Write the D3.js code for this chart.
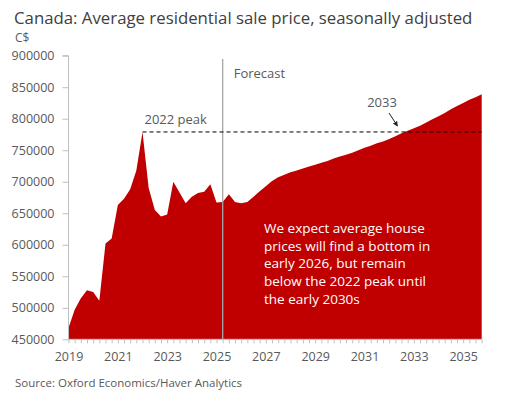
<!DOCTYPE html>
<html>
<head>
<meta charset="utf-8">
<script src="https://cdn.jsdelivr.net/npm/d3@7"></script>
<style>
  body { margin: 0; background: #fff; }
  svg { font-family: "Open Sans", "Noto Sans", sans-serif; }
</style>
</head>
<body>
<svg id="chart" width="510" height="399"></svg>
<script>
// quarterly average residential sale price, C$ (2019Q1 .. 2035Q4)
var years = d3.range(2019, 2036);
var quarters = [];
years.forEach(function(y) { for (var q = 0; q < 4; q++) quarters.push(y + q / 4); });

var prices = [
  468000, 497000, 515000, 528000,   // 2019
  525000, 511000, 602000, 610000,   // 2020
  663000, 673000, 688000, 718000,   // 2021
  779000, 690000, 655000, 645000,   // 2022
  648000, 700000, 683000, 666000,   // 2023
  676000, 682000, 684000, 696000,   // 2024
  667000, 668000, 680000, 668000,   // 2025
  666000, 668000, 676000, 685000,   // 2026
  693000, 701000, 707000, 711000,   // 2027
  715000, 718000, 721000, 724000,   // 2028
  727000, 730000, 733000, 737000,   // 2029
  740000, 743000, 746000, 750000,   // 2030
  754000, 757000, 761000, 764000,   // 2031
  768000, 772000, 777000, 781000,   // 2032
  785000, 789000, 794000, 799000,   // 2033
  804000, 809000, 815000, 820000,   // 2034
  825000, 830000, 834000, 839000    // 2035
];

var forecastStart = 2025.25;
var yTicks = d3.range(450000, 900001, 50000);
var xLabels = [2019, 2021, 2023, 2025, 2027, 2029, 2031, 2033, 2035];
var noteLines = [
  "We expect average house",
  "prices will find a bottom in",
  "early 2026, but remain",
  "below the 2022 peak until",
  "the early 2030s"
];

var svg = d3.select('#chart');
var grey = '#595959';

var x = d3.scaleLinear()
  .domain([2019, 2035.75])
  .range([68.5, 481.7]);

var y = d3.scaleLinear()
  .domain([450000, 900000])
  .range([339.3, 55.7]);

// title
svg.append('text')
  .attr('x', 14).attr('y', 24)
  .attr('font-size', 16.8)
  .attr('fill', '#404040')
  .text('Canada: Average residential sale price, seasonally adjusted');

svg.append('text')
  .attr('x', 15).attr('y', 42)
  .attr('font-size', 12)
  .attr('fill', grey)
  .text('C$');

// area
var area = d3.area()
  .x(function(d, i) { return x(quarters[i]); })
  .y0(y(450000))
  .y1(function(d) { return y(d); });

svg.append('path')
  .attr('d', area(prices))
  .attr('fill', '#c00000');

// y axis
var yAxis = d3.axisLeft(y)
  .tickValues(yTicks)
  .tickSize(6)
  .tickFormat(d3.format('d'));

var gy = svg.append('g')
  .attr('transform', 'translate(' + x.range()[0] + ',0)')
  .call(yAxis);
gy.select('.domain').attr('stroke', '#bfbfbf').attr('d', 'M-6,' + y(900000) + 'H0V' + y(450000));
gy.selectAll('.tick line').attr('stroke', '#bfbfbf');
gy.selectAll('.tick text')
  .attr('font-size', 12.5)
  .attr('font-family', '"Open Sans", sans-serif')
  .attr('fill', grey)
  .attr('x', -14);

// x axis, quarterly ticks
var xAxis = d3.axisBottom(x)
  .tickValues(quarters)
  .tickSize(4)
  .tickFormat(function(d) { return xLabels.indexOf(d) >= 0 ? d : ''; });

var gx = svg.append('g')
  .attr('transform', 'translate(0,' + y(450000) + ')')
  .call(xAxis);
gx.select('.domain').attr('stroke', '#bfbfbf').attr('d', 'M' + x.range()[0] + ',0H' + x.range()[1]);
gx.selectAll('.tick line').attr('stroke', '#bfbfbf');
gx.selectAll('.tick text')
  .attr('font-size', 12.5)
  .attr('font-family', '"Open Sans", sans-serif')
  .attr('fill', grey)
  .attr('y', 13);

// forecast divider
svg.append('line')
  .attr('x1', x(forecastStart)).attr('x2', x(forecastStart))
  .attr('y1', 59).attr('y2', y(450000))
  .attr('stroke', '#a6a6a6')
  .attr('stroke-width', 1.3);

svg.append('text')
  .attr('x', x(forecastStart) + 11).attr('y', 78)
  .attr('font-size', 13)
  .attr('fill', grey)
  .text('Forecast');

// 2022 peak line (max of the historical part)
var pastPrices = prices.filter(function(d, i) { return quarters[i] < forecastStart; });
var peak = d3.max(pastPrices);
var peakX = quarters[prices.indexOf(peak)];

svg.append('line')
  .attr('x1', x(peakX)).attr('x2', x(2035.75))
  .attr('y1', y(peak)).attr('y2', y(peak))
  .attr('stroke', '#000')
  .attr('stroke-width', 1)
  .attr('stroke-dasharray', '4,3');

svg.append('text')
  .attr('x', x(peakX) + 2).attr('y', y(peak) - 8)
  .attr('font-size', 13)
  .attr('fill', grey)
  .text('2022 peak');

// 2033 crossing annotation
svg.append('defs').append('marker')
  .attr('id', 'arrow')
  .attr('viewBox', '0 0 10 10')
  .attr('refX', 9).attr('refY', 5)
  .attr('markerWidth', 5).attr('markerHeight', 5)
  .attr('orient', 'auto')
  .append('path')
  .attr('d', 'M0,0L10,5L0,10z')
  .attr('fill', '#222');

svg.append('line')
  .attr('x1', 389).attr('y1', 113)
  .attr('x2', 397.5).attr('y2', 126)
  .attr('stroke', '#222')
  .attr('stroke-width', 1)
  .attr('marker-end', 'url(#arrow)');

svg.append('text')
  .attr('x', 382).attr('y', 107)
  .attr('text-anchor', 'middle')
  .attr('font-size', 13)
  .attr('fill', grey)
  .text('2033');

// note inside area
svg.append('g').selectAll('text')
  .data(noteLines)
  .enter().append('text')
  .attr('x', 264)
  .attr('y', function(d, i) { return 233 + i * 17.7; })
  .attr('font-size', 13.5)
  .attr('fill', '#fff')
  .text(function(d) { return d; });

// source
svg.append('text')
  .attr('x', 15).attr('y', 387)
  .attr('font-size', 11.5)
  .attr('fill', grey)
  .text('Source: Oxford Economics/Haver Analytics');
</script>
</body>
</html>
